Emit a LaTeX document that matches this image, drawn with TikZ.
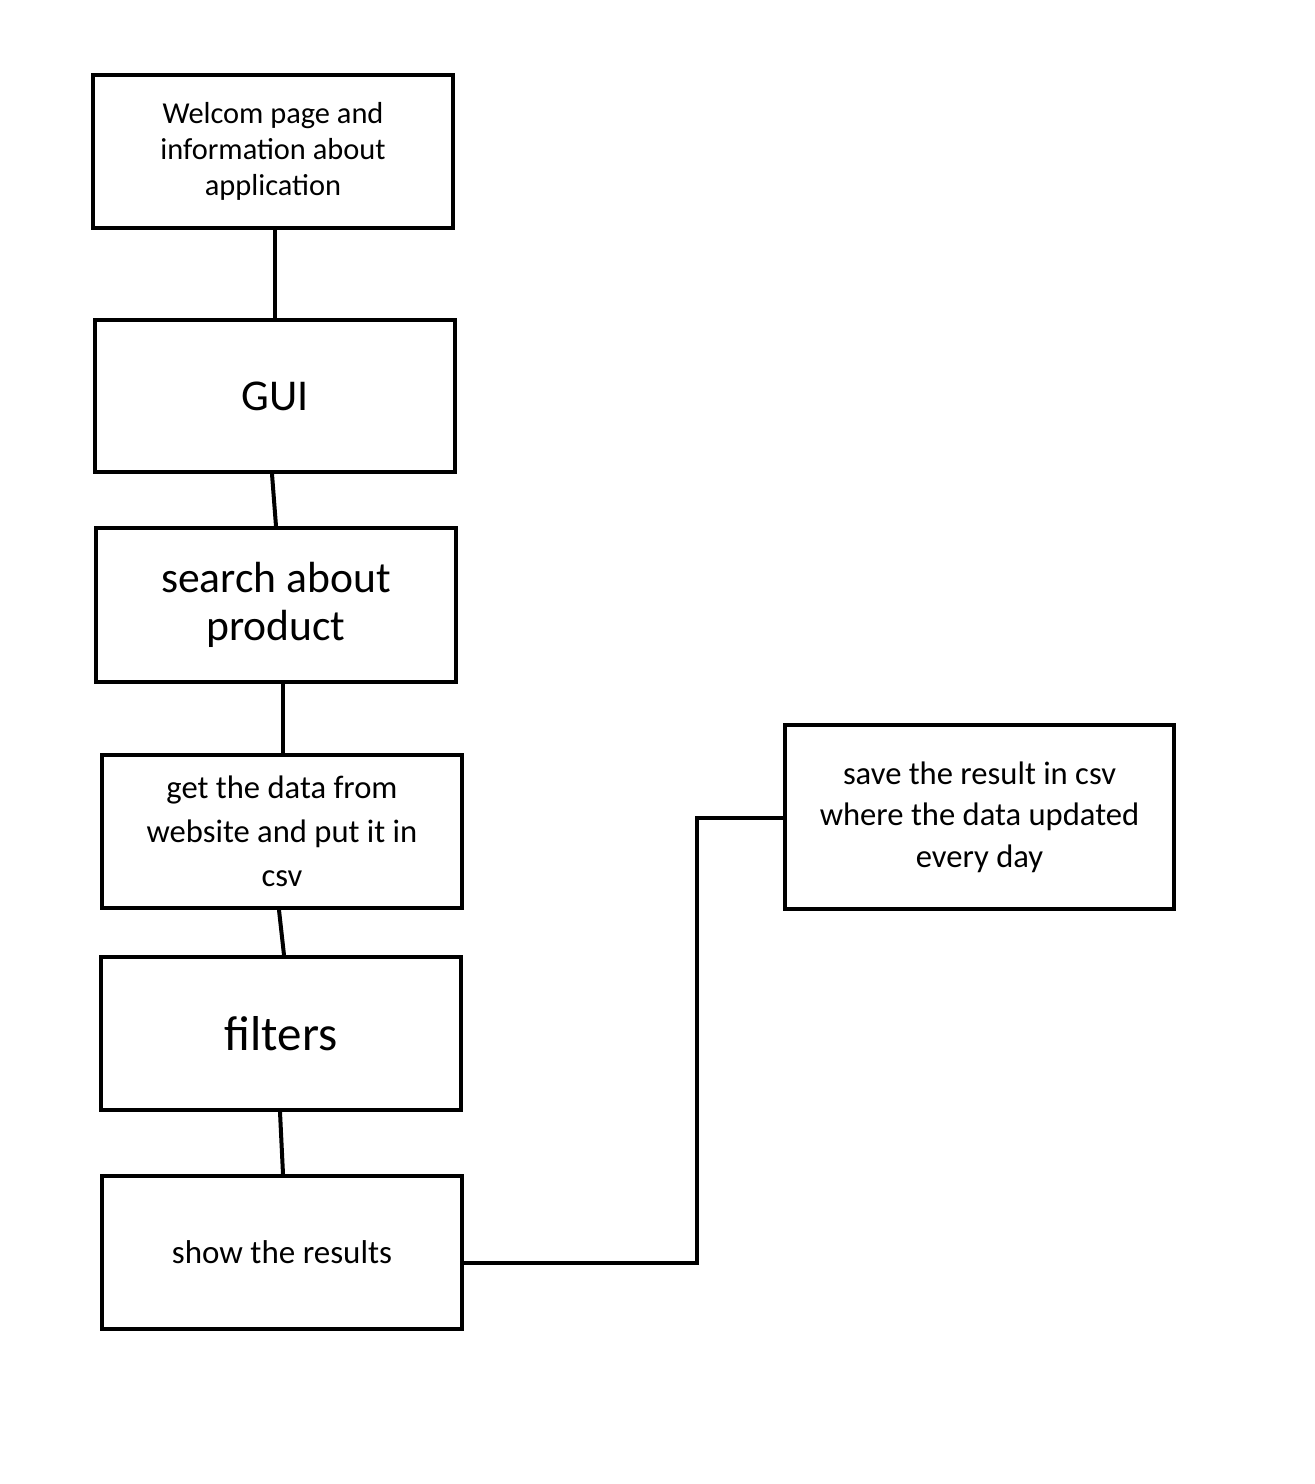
\documentclass[tikz,border=0pt]{standalone}
\usepackage{fontspec}
\setmainfont{Carlito}
\begin{document}
\begin{tikzpicture}[x=0.5pt,y=-0.5pt,
  box/.style={draw=black,line width=2pt,rectangle,inner sep=0pt,align=center,text=black},
  conn/.style={draw=black,line width=2pt,line cap=round}]
\useasboundingbox (0,0) rectangle (1314,1484);
\node[box,minimum width=180pt,minimum height=76.5pt,font=\fontsize{15.2}{18}\selectfont] (welcome) at (273,151.5) {Welcom page and\\information about\\application};
\node[box,minimum width=180pt,minimum height=76pt,font=\fontsize{22}{25}\selectfont] (gui) at (275,396) {GUI};
\node[box,minimum width=180pt,minimum height=77pt,font=\fontsize{21.8}{24}\selectfont] (search) at (276,605) {search about\\product};
\node[box,minimum width=180pt,minimum height=76.5pt,font=\fontsize{16.3}{22}\selectfont] (getdata) at (282,831.5) {get the data from\\website and put it in\\csv};
\node[box,minimum width=180pt,minimum height=76.5pt,font=\fontsize{24.5}{27}\selectfont] (filters) at (281,1033.5) {filters};
\node[box,minimum width=180pt,minimum height=76.5pt,font=\fontsize{16.5}{18}\selectfont] (show) at (282,1252.5) {show the results};
\node[box,minimum width=194.5pt,minimum height=92pt,font=\fontsize{16.3}{20.8}\selectfont] (save) at (979.5,817) {save the result in csv\\where the data updated\\every day};
\coordinate (bend1) at (697,1263);
\coordinate (bend2) at (697,818);
\draw[conn] ([xshift=1pt]welcome.south) -- ([xshift=0pt]gui.north);
\draw[conn] ([xshift=-1.5pt]gui.south) -- ([xshift=0pt]search.north);
\draw[conn] ([xshift=3.5pt]search.south) -- ([xshift=0.5pt]getdata.north);
\draw[conn] ([xshift=-1.5pt]getdata.south) -- ([xshift=1.5pt]filters.north);
\draw[conn] ([xshift=-0.5pt]filters.south) -- ([xshift=0.5pt]show.north);
\draw[conn] (show.east |- bend1) -- (bend1) -- (bend2) -- (save.west |- bend2);
\end{tikzpicture}
\end{document}
